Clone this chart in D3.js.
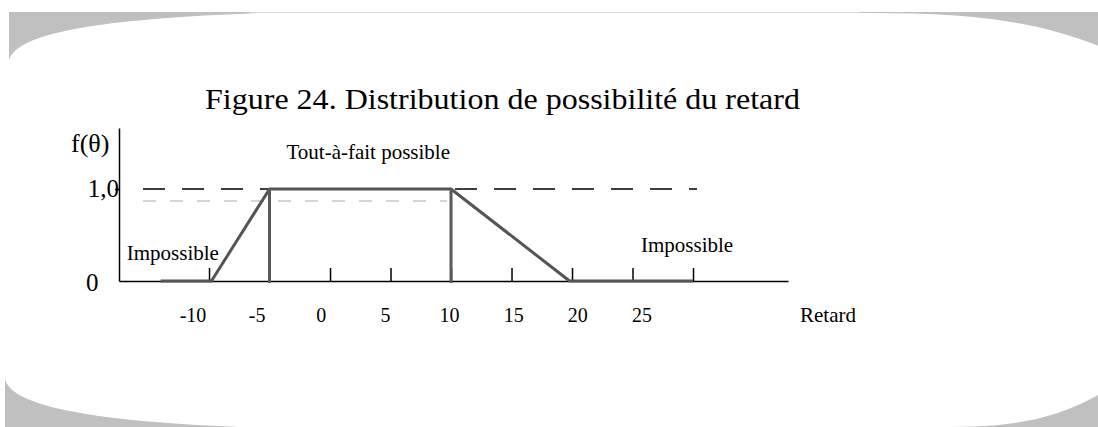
<!DOCTYPE html>
<html>
<head>
<meta charset="utf-8">
<script src="https://cdn.jsdelivr.net/npm/d3@7"></script>
<style>
  html, body { margin: 0; padding: 0; background: #fff; overflow: hidden; }
  svg { display: block; }
  text { font-family: "Liberation Serif", "Times New Roman", serif; fill: #000; }
</style>
</head>
<body>
<svg id="chart" width="1098" height="427"></svg>
<script>
// Possibility distribution of the delay (trapezoid)
const possibilityPoints = [
  { x: -14, y: 0 },
  { x: -9.8, y: 0 },
  { x: -5, y: 1 },
  { x: 10, y: 1 },
  { x: 19.8, y: 0 },
  { x: 30, y: 0 }
];
// vertical edges of the fully possible core
const coreEdges = [-5, 10];

// axis ticks and labels
const xTickValues = [-10, -5, 0, 5, 10, 15, 20, 25, 30];
const xTickLabels = [-10, -5, 0, 5, 10, 15, 20, 25];
const yTickValues = [1];
const yTickLabels = [{ v: 0, text: "0" }, { v: 1, text: "1,0" }];

// reference levels
const fullLevel = 1.0;
const secondLevel = 0.87;

// text annotations and where they sit (in data units)
const annotationTexts = ["Tout-à-fait possible", "Impossible", "Impossible"];
const annotationAnchors = [[-3.6, 1.33], [-16.8, 0.23], [25.7, 0.315]];

const titleText = "Figure 24. Distribution de possibilité du retard";
const xTitle = "Retard";
const yTitle = "f(θ)";

const svg = d3.select("#chart");

// ---- grey rounded corners of the frame ----
const frameGrey = "#c0c0c0";
const corners = [
  "M9,12 L262,12 L262,13 L260,13 C60,20 12,40 9,62 Z",
  "M848,12 L1150,12 L1150,71 C1050,13 950,13 850,13 L848,13 Z",
  "M1150,355 L1150,430 L930,430 L930,427 C1003.3,427 1076.7,427 1150,355 Z",
  "M5,379 C10,400 60,420 240,427 L240,430 L5,430 Z"
];
svg.append("g").selectAll("path")
  .data(corners)
  .join("path")
  .attr("d", d => d)
  .attr("fill", frameGrey);
svg.append("line")
  .attr("x1", 250).attr("x2", 860).attr("y1", 12.5).attr("y2", 12.5)
  .attr("stroke", "#d6d6d6").attr("stroke-width", 1);

// ---- scales ----
const x = d3.scaleLinear().domain([-17.44, 37.85]).range([119, 788]);
const xLabelPos = d3.scaleLinear().domain([-10, 25]).range([193, 642]);
const y = d3.scaleLinear().domain([0, 1.663]).range([281, 128]);

// ---- title ----
svg.append("text")
  .attr("x", 205).attr("y", 109)
  .attr("font-size", 29)
  .attr("textLength", 595)
  .attr("lengthAdjust", "spacingAndGlyphs")
  .text(titleText);

// ---- reference dashed lines ----
svg.append("line")
  .attr("x1", 143).attr("x2", 697)
  .attr("y1", y(fullLevel)).attr("y2", y(fullLevel))
  .attr("stroke", "#000").attr("stroke-width", 1.5)
  .attr("stroke-dasharray", "22,17");
svg.append("line")
  .attr("x1", 143).attr("x2", x(coreEdges[1]) - 4)
  .attr("y1", y(secondLevel)).attr("y2", y(secondLevel))
  .attr("stroke", "#c8c8c8").attr("stroke-width", 1.5)
  .attr("stroke-dasharray", "13,14");

// ---- axes ----
const xAxis = d3.axisBottom(x)
  .tickValues(xTickValues)
  .tickSizeInner(-13)
  .tickSizeOuter(0)
  .tickFormat("");
const gx = svg.append("g").attr("transform", `translate(0,${y(0)})`).call(xAxis);
gx.select(".domain").attr("stroke", "#000").attr("stroke-width", 1.5);
gx.selectAll(".tick line").attr("stroke", "#000").attr("stroke-width", 1.5);

const yAxis = d3.axisLeft(y)
  .tickValues(yTickValues)
  .tickSizeInner(4)
  .tickSizeOuter(0)
  .tickFormat("");
const gy = svg.append("g").attr("transform", `translate(${x.range()[0]},0)`).call(yAxis);
gy.select(".domain").attr("stroke", "#000").attr("stroke-width", 1.5);
gy.selectAll(".tick line").attr("stroke", "#000").attr("stroke-width", 1.5);

// tick labels
svg.append("g").selectAll("text")
  .data(xTickLabels)
  .join("text")
  .attr("x", d => xLabelPos(d))
  .attr("y", 322)
  .attr("text-anchor", "middle")
  .attr("font-size", 20)
  .text(d => d);

svg.append("g").selectAll("text")
  .data(yTickLabels)
  .join("text")
  .attr("x", d => d.v === 0 ? 86 : 119)
  .attr("y", d => y(d.v) + (d.v === 0 ? 10 : 8))
  .attr("text-anchor", d => d.v === 0 ? "start" : "end")
  .attr("font-size", 25)
  .text(d => d.text);

// axis titles
svg.append("text")
  .attr("x", 800).attr("y", 322)
  .attr("font-size", 21)
  .text(xTitle);
svg.append("text")
  .attr("x", 71).attr("y", 152)
  .attr("font-size", 26)
  .text(yTitle);

// ---- distribution ----
const line = d3.line().x(d => x(d.x)).y(d => y(d.y));
svg.append("path")
  .datum(possibilityPoints)
  .attr("d", line)
  .attr("fill", "none")
  .attr("stroke", "#555")
  .attr("stroke-width", 3)
  .attr("stroke-linejoin", "round");

svg.append("g").selectAll("line")
  .data(coreEdges)
  .join("line")
  .attr("x1", d => x(d)).attr("x2", d => x(d))
  .attr("y1", y(1)).attr("y2", y(0) + 2)
  .attr("stroke", "#5a5a5a")
  .attr("stroke-width", 3);

// ---- annotations ----
svg.append("g").selectAll("text")
  .data(annotationTexts)
  .join("text")
  .attr("x", (d, i) => x(annotationAnchors[i][0]))
  .attr("y", (d, i) => y(annotationAnchors[i][1]))
  .attr("font-size", 21)
  .text(d => d);
</script>
</body>
</html>
